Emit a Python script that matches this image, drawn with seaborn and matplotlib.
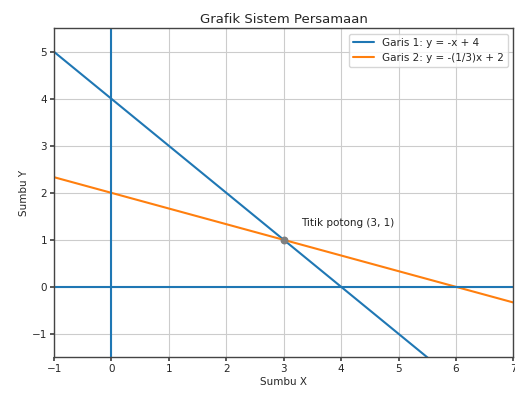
import matplotlib.pyplot as plt
import seaborn as sns
import pandas as pd

# Data garis (titik ujung)
x_garis = [-1, 7]
y_garis1 = [5, -3]
y_garis2 = [2.333, -0.333]
titik_x = [3]
titik_y = [1]

sns.set_theme(style="whitegrid")
plt.rcParams['font.family'] = ['DejaVu Sans']

df1 = pd.DataFrame({"x": x_garis, "y": y_garis1})
df2 = pd.DataFrame({"x": x_garis, "y": y_garis2})

fig = plt.figure(figsize=(5.15, 3.94), dpi=100)
ax = fig.add_axes([0.105, 0.093, 0.892, 0.835])

sns.lineplot(data=df1, x="x", y="y", ax=ax, color="#1f77b4", linewidth=1.5,
             label="Garis 1: y = -x + 4")
sns.lineplot(data=df2, x="x", y="y", ax=ax, color="#ff7f0e", linewidth=1.5,
             label="Garis 2: y = -(1/3)x + 2")

# Sumbu x dan y
ax.axhline(0, color="#1f77b4", linewidth=1.5)
ax.axvline(0, color="#1f77b4", linewidth=1.5)

# Titik potong
ax.scatter(titik_x, titik_y, color="gray", s=22, marker="o", zorder=5)
ax.text(titik_x[0] + 0.3, titik_y[0] + 0.3, "Titik potong (3, 1)", fontsize=7.5, color="#222222")

ax.set_xlim(-1, 7)
ax.set_ylim(-1.5, 5.5)
ax.set_xticks(range(-1, 8))
ax.set_yticks(range(-1, 6))

ax.set_title("Grafik Sistem Persamaan", fontsize=9.5, pad=4)
ax.set_xlabel("Sumbu X", fontsize=7.5, labelpad=2)
ax.set_ylabel("Sumbu Y", fontsize=7.5, labelpad=2)
ax.tick_params(labelsize=7.5, length=3, left=True, bottom=True, color="#444444", pad=2)

for s in ax.spines.values():
    s.set_color("#444444")
    s.set_linewidth(1.0)
ax.grid(True, color="#cccccc", linewidth=0.8)

ax.legend(loc="upper right", fontsize=7.5, frameon=True)

fig.savefig("out.png", dpi=100)
